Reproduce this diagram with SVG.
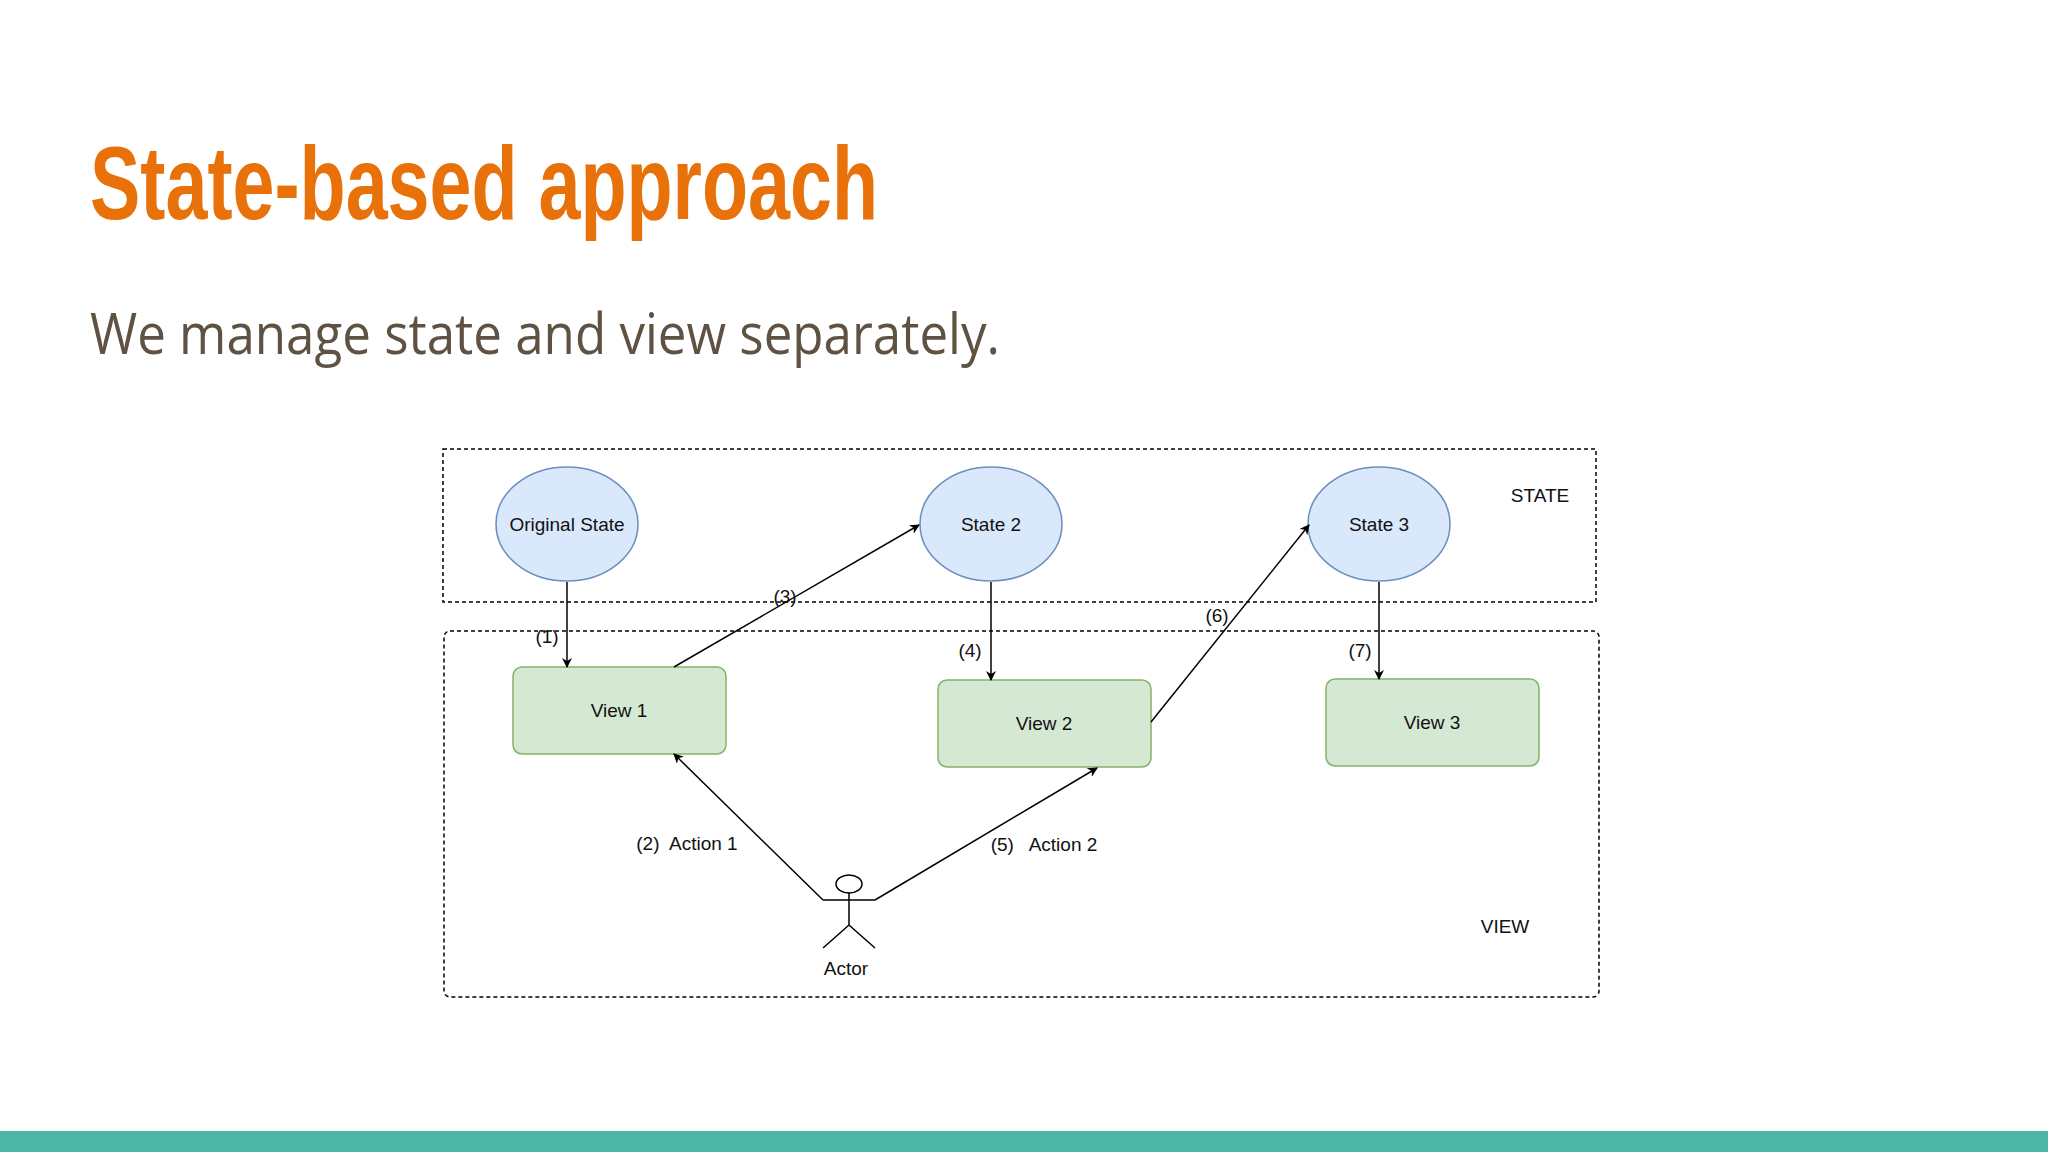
<svg xmlns="http://www.w3.org/2000/svg" width="2048" height="1152" viewBox="0 0 2048 1152">
<defs>
<marker id="ah" markerWidth="10" markerHeight="10" refX="9" refY="5" orient="auto" markerUnits="userSpaceOnUse"><path d="M0,0 L10,5 L0,10 L3,5 Z" fill="#000"/></marker>
<style>
.t{font-family:"Liberation Sans",Arial,sans-serif;font-size:19px;fill:#111;text-anchor:middle}
.st{fill:#dae8fc;stroke:#6c8ebf;stroke-width:1.5}
.vw{fill:#d5e8d4;stroke:#82b366;stroke-width:1.5}
.box{fill:none;stroke:#000;stroke-width:1.5;stroke-dasharray:4,3}
.c{stroke:#000;stroke-width:1.5;fill:none}
</style>
</defs>
<rect width="2048" height="1152" fill="#fff"/>
<text x="90" y="219" font-family="'Liberation Sans Narrow','Liberation Sans',sans-serif" font-weight="bold" font-size="104" fill="#e8710a" textLength="788" lengthAdjust="spacingAndGlyphs">State-based approach</text>
<text x="90" y="354" font-family="'Open Sans',sans-serif" font-size="56" fill="#5f5242" textLength="910" lengthAdjust="spacingAndGlyphs">We manage state and view separately.</text>
<rect x="0" y="1131" width="2048" height="21" fill="#4db6a4"/>
<rect class="box" x="443" y="449" width="1153" height="153"/>
<rect class="box" x="444" y="631" width="1155" height="366" rx="6"/>
<text class="t" x="1540" y="502">STATE</text>
<text class="t" x="1505" y="933">VIEW</text>
<g id="s1"><ellipse class="st" cx="567" cy="524" rx="71" ry="57"/><text class="t" x="567" y="531">Original State</text></g>
<g id="s2"><ellipse class="st" cx="991" cy="524" rx="71" ry="57"/><text class="t" x="991" y="531">State 2</text></g>
<g id="s3"><ellipse class="st" cx="1379" cy="524" rx="71" ry="57"/><text class="t" x="1379" y="531">State 3</text></g>
<g id="v1"><rect class="vw" x="513" y="667" width="213" height="87" rx="9"/><text class="t" x="619" y="717">View 1</text></g>
<g id="v2"><rect class="vw" x="938" y="680" width="213" height="87" rx="9"/><text class="t" x="1044" y="730">View 2</text></g>
<g id="v3"><rect class="vw" x="1326" y="679" width="213" height="87" rx="9"/><text class="t" x="1432" y="729">View 3</text></g>
<g id="actor" class="c"><ellipse cx="849" cy="884" rx="13" ry="9"/><path d="M849,893 V925 M823,900 H875 M849,925 L823,948 M849,925 L875,948"/><text class="t" x="846" y="975" stroke="none">Actor</text></g>
<g id="connectors" class="c" marker-end="url(#ah)">
<path d="M567,582 V667"/>
<path d="M674,667 L919,525"/>
<path d="M991,582 V680"/>
<path d="M1151,722 L1309,525"/>
<path d="M1379,582 V679"/>
<path d="M823,900 L674,754"/>
<path d="M875,900 L1097,768"/>
</g>
<g id="labels">
<text class="t" x="547" y="643">(1)</text>
<text class="t" x="785" y="603">(3)</text>
<text class="t" x="970" y="657">(4)</text>
<text class="t" x="1217" y="622">(6)</text>
<text class="t" x="1360" y="657">(7)</text>
<text class="t" x="687" y="850" xml:space="preserve">(2)  Action 1</text>
<text class="t" x="1044" y="851" xml:space="preserve">(5)   Action 2</text>
</g>
</svg>
